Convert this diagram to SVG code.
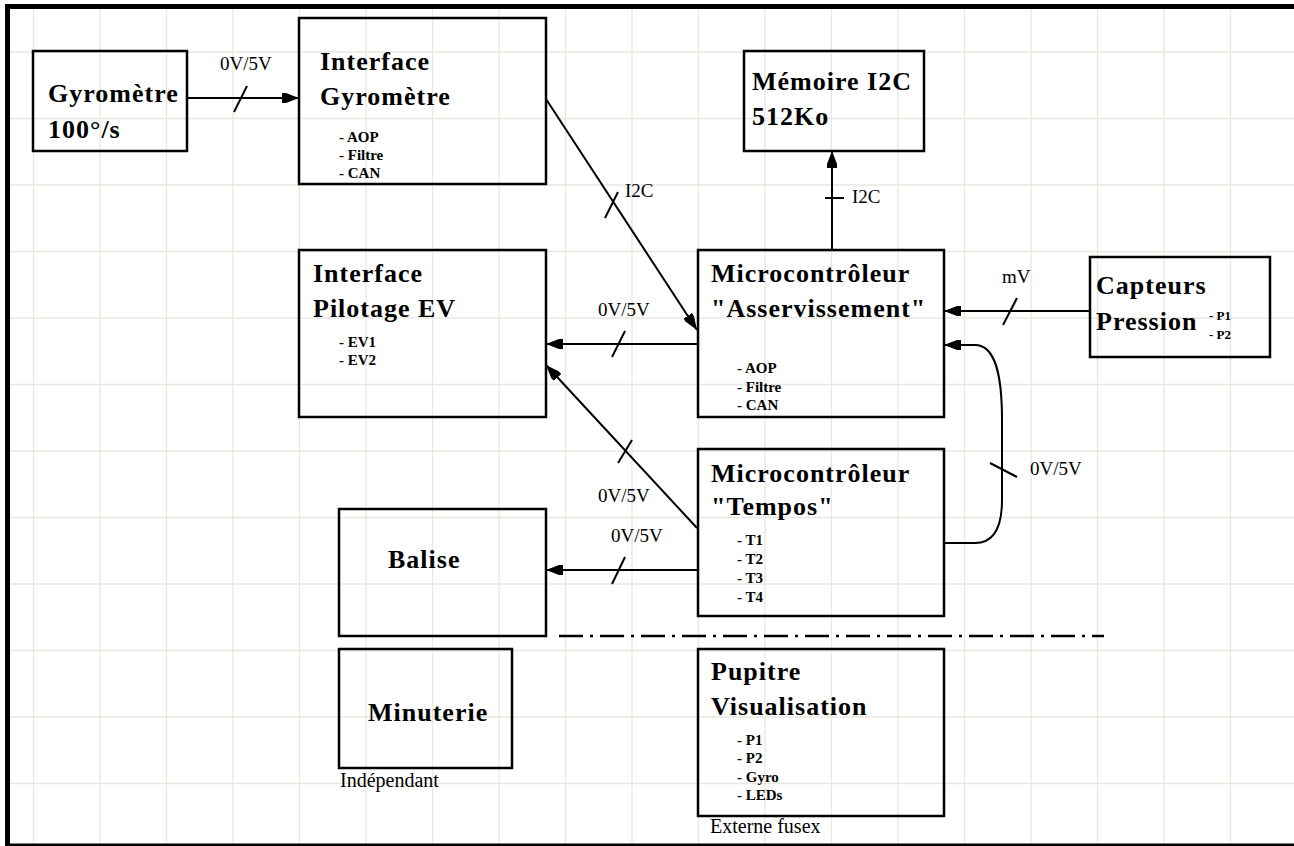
<svg xmlns="http://www.w3.org/2000/svg" width="1294" height="846" viewBox="0 0 1294 846">
<style>
.box{fill:none;stroke:#000;stroke-width:2.5}
.title{font-family:"Liberation Serif","Times New Roman",serif;font-weight:bold;font-size:26px;letter-spacing:1px;fill:#000}
.item{font-family:"Liberation Serif","Times New Roman",serif;font-weight:bold;font-size:15px;fill:#000}
.small{font-family:"Liberation Serif","Times New Roman",serif;font-weight:bold;font-size:13px;fill:#000}
.lbl{font-family:"Liberation Serif","Times New Roman",serif;font-size:19px;fill:#000}
.note{font-family:"Liberation Serif","Times New Roman",serif;font-size:20px;fill:#000}
.con{fill:none;stroke:#000;stroke-width:2}
.tick{stroke:#000;stroke-width:2}
.grid line{stroke:#e8e8df;stroke-width:1.3}
</style>
<defs>
<marker id="arr" markerUnits="userSpaceOnUse" markerWidth="18" markerHeight="12" refX="17" refY="6" orient="auto">
<path d="M0,1 L4,1 L17,6 L4,11 L0,11 z" fill="#000"/>
</marker>
</defs>
<rect x="0" y="0" width="1294" height="846" fill="#fff"/>
<g class="grid">
<line x1="33.5" y1="9" x2="33.5" y2="846"/><line x1="100" y1="9" x2="100" y2="846"/><line x1="166.5" y1="9" x2="166.5" y2="846"/><line x1="233" y1="9" x2="233" y2="846"/><line x1="299.5" y1="9" x2="299.5" y2="846"/><line x1="366" y1="9" x2="366" y2="846"/><line x1="432.5" y1="9" x2="432.5" y2="846"/><line x1="499" y1="9" x2="499" y2="846"/><line x1="565.5" y1="9" x2="565.5" y2="846"/><line x1="632" y1="9" x2="632" y2="846"/><line x1="698.5" y1="9" x2="698.5" y2="846"/><line x1="765" y1="9" x2="765" y2="846"/><line x1="831.5" y1="9" x2="831.5" y2="846"/><line x1="898" y1="9" x2="898" y2="846"/><line x1="964.5" y1="9" x2="964.5" y2="846"/><line x1="1031" y1="9" x2="1031" y2="846"/><line x1="1097.5" y1="9" x2="1097.5" y2="846"/><line x1="1164" y1="9" x2="1164" y2="846"/><line x1="1230.5" y1="9" x2="1230.5" y2="846"/>
<line x1="10" y1="52" x2="1294" y2="52"/><line x1="10" y1="118.5" x2="1294" y2="118.5"/><line x1="10" y1="185" x2="1294" y2="185"/><line x1="10" y1="251.5" x2="1294" y2="251.5"/><line x1="10" y1="318" x2="1294" y2="318"/><line x1="10" y1="384.5" x2="1294" y2="384.5"/><line x1="10" y1="451" x2="1294" y2="451"/><line x1="10" y1="517.5" x2="1294" y2="517.5"/><line x1="10" y1="584" x2="1294" y2="584"/><line x1="10" y1="650.5" x2="1294" y2="650.5"/><line x1="10" y1="717" x2="1294" y2="717"/><line x1="10" y1="783.5" x2="1294" y2="783.5"/>
</g>
<g id="frame">
<rect x="5" y="4" width="1289" height="5" fill="#000"/>
<rect x="5" y="4" width="5" height="842" fill="#000"/>
<rect x="5" y="843.5" width="1289" height="2.5" fill="#000"/>
</g>
<g id="connectors">
<path class="con" d="M187,98 H299" marker-end="url(#arr)"/>
<line class="tick" x1="234" y1="112" x2="247" y2="86"/>
<text class="lbl" x="220" y="70">0V/5V</text>
<path class="con" d="M546,99 L697,330" marker-end="url(#arr)"/>
<line class="tick" x1="605" y1="218" x2="618" y2="192"/>
<text class="lbl" x="625" y="197">I2C</text>
<path class="con" d="M832,250 V151" marker-end="url(#arr)"/>
<line class="tick" x1="825" y1="198" x2="844" y2="198"/>
<text class="lbl" x="852" y="203">I2C</text>
<path class="con" d="M698,344 H546" marker-end="url(#arr)"/>
<line class="tick" x1="612" y1="357" x2="625" y2="331"/>
<text class="lbl" x="598" y="316">0V/5V</text>
<path class="con" d="M697,528 L546,365" marker-end="url(#arr)"/>
<line class="tick" x1="618" y1="463" x2="632" y2="440"/>
<text class="lbl" x="598" y="502">0V/5V</text>
<path class="con" d="M1090,311 H944" marker-end="url(#arr)"/>
<line class="tick" x1="1003" y1="325" x2="1017" y2="298"/>
<text class="lbl" x="1002" y="283">mV</text>
<path class="con" d="M698,570 H546" marker-end="url(#arr)"/>
<line class="tick" x1="612" y1="584" x2="625" y2="557"/>
<text class="lbl" x="611" y="542">0V/5V</text>
<path class="con" d="M944,543 H975 C995,543 1002,525 1002,500 V420 C1002,380 997,345 975,345 H944" marker-end="url(#arr)"/>
<line class="tick" x1="990" y1="463" x2="1017" y2="477"/>
<text class="lbl" x="1030" y="475">0V/5V</text>
<path d="M559,636 H1104" fill="none" stroke="#000" stroke-width="2.5" stroke-dasharray="24 7 3 7"/>
</g>
<g id="gyrometre">
<rect class="box" x="33" y="51" width="154" height="100"/>
<text class="title" x="48" y="102">Gyromètre</text>
<text class="title" x="48" y="138">100°/s</text>
</g>
<g id="interface-gyrometre">
<rect class="box" x="299" y="18" width="247" height="166"/>
<text class="title" x="320" y="70">Interface</text>
<text class="title" x="320" y="105">Gyromètre</text>
<text class="item" x="339" y="142">- AOP</text>
<text class="item" x="339" y="160">- Filtre</text>
<text class="item" x="339" y="178">- CAN</text>
</g>
<g id="memoire">
<rect class="box" x="744" y="51" width="180" height="100"/>
<text class="title" x="752" y="90">Mémoire I2C</text>
<text class="title" x="752" y="125">512Ko</text>
</g>
<g id="interface-pilotage">
<rect class="box" x="299" y="250" width="247" height="167"/>
<text class="title" x="313" y="282">Interface</text>
<text class="title" x="313" y="317">Pilotage EV</text>
<text class="item" x="339" y="347">- EV1</text>
<text class="item" x="339" y="365">- EV2</text>
</g>
<g id="micro-asservissement">
<rect class="box" x="698" y="250" width="246" height="167"/>
<text class="title" x="711" y="282">Microcontrôleur</text>
<text class="title" x="711" y="317">"Asservissement"</text>
<text class="item" x="737" y="373">- AOP</text>
<text class="item" x="737" y="392">- Filtre</text>
<text class="item" x="737" y="410">- CAN</text>
</g>
<g id="capteurs">
<rect class="box" x="1090" y="257" width="180" height="100"/>
<text class="title" x="1096" y="294">Capteurs</text>
<text class="title" x="1096" y="330">Pression</text>
<text class="small" x="1209" y="320">- P1</text>
<text class="small" x="1209" y="339">- P2</text>
</g>
<g id="micro-tempos">
<rect class="box" x="698" y="449" width="246" height="167"/>
<text class="title" x="711" y="482">Microcontrôleur</text>
<text class="title" x="711" y="515">"Tempos"</text>
<text class="item" x="737" y="545">- T1</text>
<text class="item" x="737" y="564">- T2</text>
<text class="item" x="737" y="583">- T3</text>
<text class="item" x="737" y="602">- T4</text>
</g>
<g id="balise">
<rect class="box" x="339" y="509" width="207" height="127"/>
<text class="title" x="388" y="568">Balise</text>
</g>
<g id="minuterie">
<rect class="box" x="339" y="649" width="173" height="119"/>
<text class="title" x="368" y="721">Minuterie</text>
<text class="note" x="340" y="787">Indépendant</text>
</g>
<g id="pupitre">
<rect class="box" x="698" y="649" width="246" height="167"/>
<text class="title" x="711" y="680">Pupitre</text>
<text class="title" x="711" y="715">Visualisation</text>
<text class="item" x="737" y="745">- P1</text>
<text class="item" x="737" y="763">- P2</text>
<text class="item" x="737" y="782">- Gyro</text>
<text class="item" x="737" y="800">- LEDs</text>
<text class="note" x="710" y="833">Externe fusex</text>
</g>
</svg>
